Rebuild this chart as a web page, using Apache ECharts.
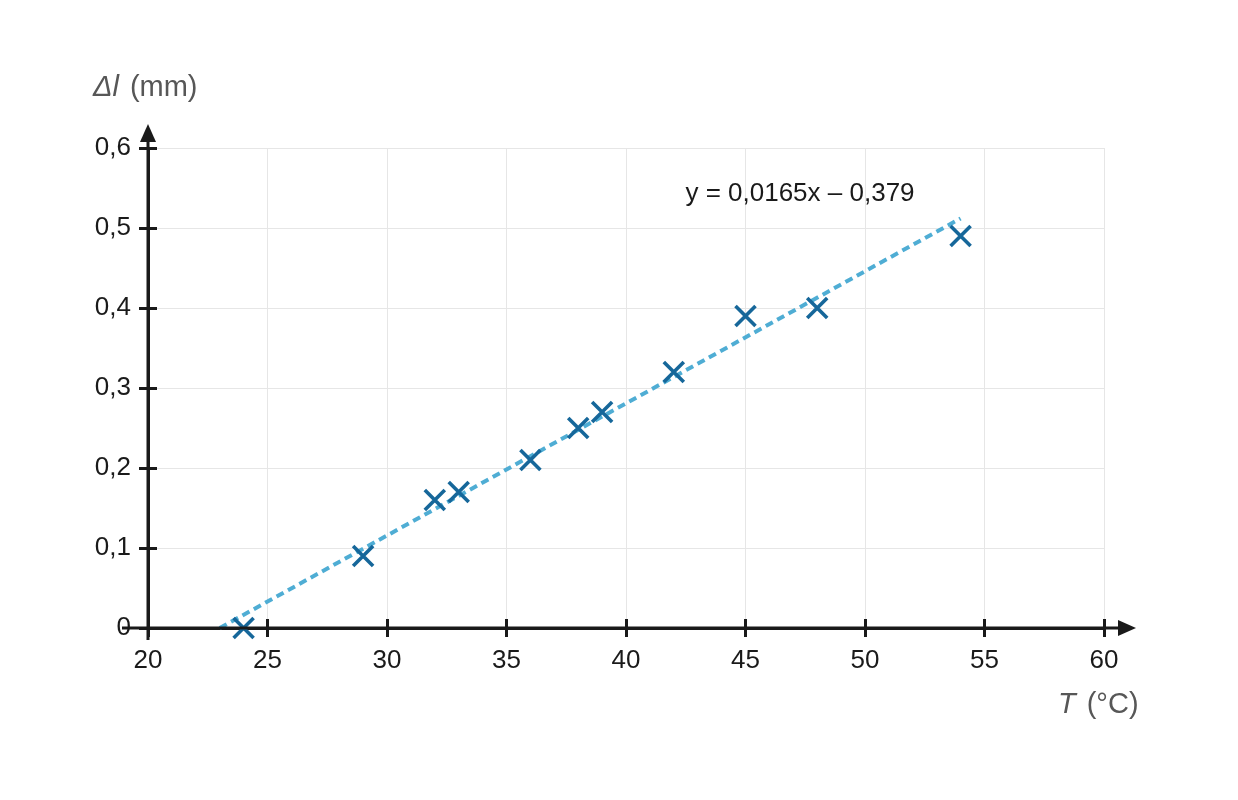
<!DOCTYPE html>
<html>
<head>
<meta charset="utf-8">
<script src="https://cdn.jsdelivr.net/npm/echarts@6/dist/echarts.min.js"></script>
<style>
  html, body { margin: 0; padding: 0; background: #fff; }
  #chart { width: 1238px; height: 800px; }
</style>
</head>
<body>
<div id="chart"></div>
<script>
// measured points: temperature (°C) vs elongation (mm)
const temps = [24, 29, 32, 33, 36, 38, 39, 42, 45, 48, 54];
const elong = [0, 0.09, 0.16, 0.17, 0.21, 0.25, 0.27, 0.32, 0.39, 0.40, 0.49];
// trend line end points
const trendX = [23, 54];
const trendY = [0, 0.512];
const equation = 'y = 0,0165x \u2013 0,379';

const FONT = '"Liberation Sans", Arial, sans-serif';
const AXIS_COLOR = '#1a1a1a';

const chart = echarts.init(document.getElementById('chart'));

const crossMark = 'path://M0,0 L10,10 M10,0 L0,10';

const option = {
  animation: false,
  textStyle: { fontFamily: FONT },
  grid: { left: 148, right: 134, top: 148, bottom: 172 },
  xAxis: [{
    type: 'value',
    min: 20, max: 60, interval: 5,
    axisLine: { show: true, lineStyle: { color: AXIS_COLOR, width: 3 } },
    axisTick: { show: true, length: 9, lineStyle: { color: AXIS_COLOR, width: 3 } },
    axisLabel: {
      color: '#1a1a1a', fontSize: 26, margin: 20,
      formatter: v => String(v)
    },
    splitLine: { show: true, lineStyle: { color: '#e6e6e6', width: 1 } }
  }, {
    type: 'value',
    position: 'bottom',
    min: 20, max: 60, interval: 5,
    axisLine: { show: false, onZero: false },
    axisTick: { show: true, inside: true, length: 9, lineStyle: { color: AXIS_COLOR, width: 3 } },
    axisLabel: { show: false },
    splitLine: { show: false }
  }],
  yAxis: [{
    type: 'value',
    min: 0, max: 0.6, interval: 0.1,
    axisLine: { show: true, lineStyle: { color: AXIS_COLOR, width: 3 } },
    axisTick: { show: true, length: 9, lineStyle: { color: AXIS_COLOR, width: 3 } },
    axisLabel: {
      color: '#1a1a1a', fontSize: 26, margin: 17,
      formatter: v => v === 0 ? '0' : v.toFixed(1).replace('.', ',')
    },
    splitLine: { show: true, lineStyle: { color: '#e6e6e6', width: 1 } }
  }, {
    type: 'value',
    position: 'left',
    min: 0, max: 0.6, interval: 0.1,
    axisLine: { show: false, onZero: false },
    axisTick: { show: true, inside: true, length: 9, lineStyle: { color: AXIS_COLOR, width: 3 } },
    axisLabel: { show: false },
    splitLine: { show: false }
  }],
  series: [{
    name: 'trend',
    type: 'line',
    data: trendX.map((x, i) => [x, trendY[i]]),
    symbol: 'none',
    silent: true,
    z: 2,
    lineStyle: { color: '#4fadd4', width: 4, type: [8, 5] }
  }, {
    name: 'measured',
    type: 'scatter',
    data: temps.map((t, i) => [t, elong[i]]),
    symbol: crossMark,
    symbolSize: 20,
    z: 3,
    itemStyle: { color: 'none', borderColor: '#16679a', borderWidth: 3.6, opacity: 1 }
  }]
};

chart.setOption(option);

// axis extensions, arrow heads, axis names and the equation label
const o = chart.convertToPixel({ xAxisIndex: 0, yAxisIndex: 0 }, [20, 0]);
const xEnd = chart.convertToPixel({ xAxisIndex: 0 }, 60);
const yEnd = chart.convertToPixel({ yAxisIndex: 0 }, 0.6);
const eq = chart.convertToPixel({ xAxisIndex: 0, yAxisIndex: 0 }, [47.28, 0.5425]);

const nameRich = {
  i: { fontFamily: FONT, fontSize: 29, fontStyle: 'italic', fill: '#575757' },
  s: { fontFamily: FONT, fontSize: 29, width: 11 },
  n: { fontFamily: FONT, fontSize: 29, fill: '#575757' }
};

chart.setOption({
  graphic: [
    { type: 'line', shape: { x1: o[0] - 26, y1: o[1], x2: xEnd + 18, y2: o[1] },
      style: { stroke: AXIS_COLOR, lineWidth: 3 }, z: 10 },
    { type: 'polygon', shape: { points: [[xEnd + 32, o[1]], [xEnd + 14, o[1] - 8], [xEnd + 14, o[1] + 8]] },
      style: { fill: AXIS_COLOR }, z: 10 },
    { type: 'line', shape: { x1: o[0], y1: o[1] + 12, x2: o[0], y2: yEnd - 10 },
      style: { stroke: AXIS_COLOR, lineWidth: 3 }, z: 10 },
    { type: 'polygon', shape: { points: [[o[0], yEnd - 24], [o[0] - 8, yEnd - 6], [o[0] + 8, yEnd - 6]] },
      style: { fill: AXIS_COLOR }, z: 10 },
    { type: 'text', x: 93, y: 88,
      style: { text: '{i|\u0394l}{s| }{n|(mm)}', rich: nameRich, verticalAlign: 'middle' } },
    { type: 'text', x: 1058, y: 705,
      style: { text: '{i|T}{s| }{n|(\u00b0C)}', rich: nameRich, verticalAlign: 'middle' } },
    { type: 'text', x: eq[0], y: eq[1],
      style: { text: equation, fontFamily: FONT, fontSize: 26, fill: '#1a1a1a',
        align: 'center', verticalAlign: 'middle' } }
  ]
});
</script>
</body>
</html>
